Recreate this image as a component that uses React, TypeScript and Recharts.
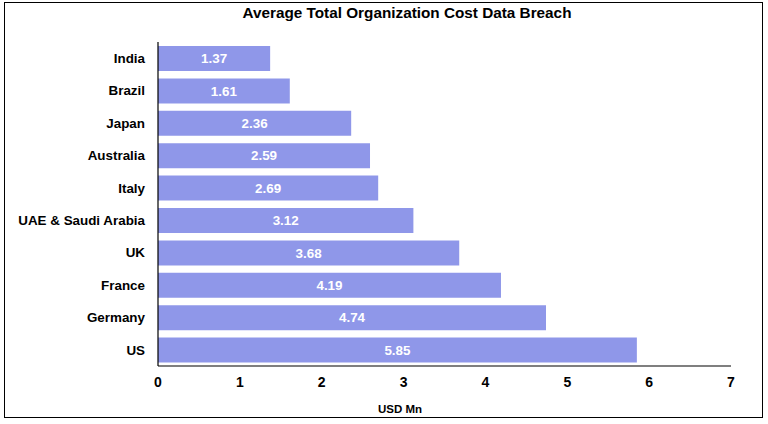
import React from "react";
import { BarChart, Bar, XAxis, YAxis, LabelList } from "recharts";

const countries = ["India", "Brazil", "Japan", "Australia", "Italy", "UAE & Saudi Arabia", "UK", "France", "Germany", "US"];
const costs = [1.37, 1.61, 2.36, 2.59, 2.69, 3.12, 3.68, 4.19, 4.74, 5.85];
const xTicks = [0, 1, 2, 3, 4, 5, 6, 7];

const data = countries.map((c, i) => ({ country: c, value: costs[i] }));

const FONT = "'Liberation Sans', Arial, Helvetica, sans-serif";

export default function App() {
  return (
    <div style={{ position: "absolute", left: 0, top: 0, width: 768, height: 424, background: "#fff", fontFamily: FONT }}>
      <div
        style={{
          position: "absolute",
          left: 4,
          top: 2,
          width: 759,
          height: 416,
          border: "1.5px solid #000",
          boxSizing: "border-box",
        }}
      />
      <div
        style={{
          position: "absolute",
          left: 0,
          width: 814,
          top: 4,
          textAlign: "center",
          fontWeight: "bold",
          fontSize: 15.3,
          color: "#000",
        }}
      >
        Average Total Organization Cost Data Breach
      </div>
      <div
        style={{
          position: "absolute",
          left: 0,
          width: 800,
          top: 403,
          textAlign: "center",
          fontWeight: "bold",
          fontSize: 11.5,
          color: "#000",
        }}
      >
        USD Mn
      </div>
      <div style={{ position: "absolute", left: 0, top: 0 }}>
        <BarChart
          width={768}
          height={424}
          data={data}
          layout="vertical"
          margin={{ top: 42, right: 37, bottom: 28, left: 8 }}
          barSize={25}
        >
          <XAxis
            type="number"
            domain={[0, 7]}
            ticks={xTicks}
            tickLine={false}
            tickSize={0}
            tickMargin={11}
            height={30}
            axisLine={{ stroke: "#000", strokeWidth: 1.2 }}
            tick={{ fill: "#000", fontSize: 14, fontWeight: "bold", fontFamily: FONT }}
          />
          <YAxis
            type="category"
            dataKey="country"
            width={150}
            tickLine={false}
            tickSize={0}
            tickMargin={13}
            interval={0}
            axisLine={{ stroke: "#000", strokeWidth: 1.2 }}
            tick={{ fill: "#000", fontSize: 13.4, fontWeight: "bold", fontFamily: FONT }}
          />
          <Bar dataKey="value" fill="#8F97E9" isAnimationActive={false}>
            <LabelList
              dataKey="value"
              position="center"
              fill="#fff"
              style={{ fontSize: 13.4, fontWeight: "bold", fontFamily: FONT }}
              formatter={(v: number) => v.toFixed(2)}
            />
          </Bar>
        </BarChart>
      </div>
    </div>
  );
}
